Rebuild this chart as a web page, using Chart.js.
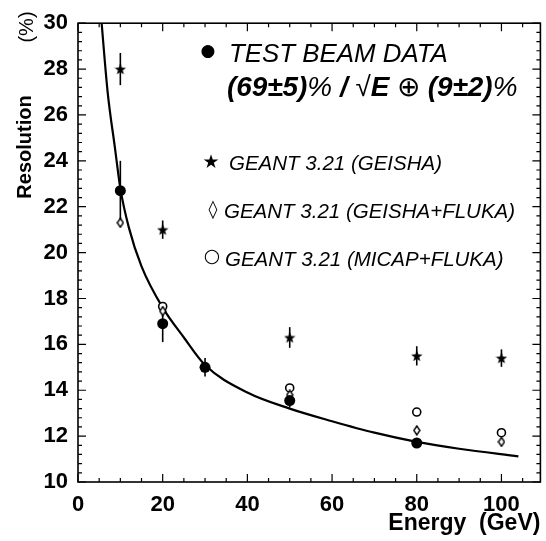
<!DOCTYPE html>
<html>
<head>
<meta charset="utf-8">
<script src="https://cdn.jsdelivr.net/npm/chart.js@4.4.1/dist/chart.umd.min.js"></script>
<style>
  html, body { margin: 0; padding: 0; background: #fff; }
  #wrap { width: 546px; height: 541px; }
</style>
</head>
<body>
<div id="wrap"><canvas id="c" width="546" height="541"></canvas></div>
<script>
// test beam data (filled circles)
var beamE   = [10, 20, 30, 50, 80];
var beamRes = [22.7, 16.9, 15.0, 13.55, 11.7];
var beamErr = [1.3, 0.8, 0.4, 0.3, 0.12];

// GEANT 3.21 (GEISHA) - stars
var geishaE   = [10, 20, 50, 80, 100];
var geishaRes = [28.0, 21.0, 16.3, 15.5, 15.4];
var geishaErr = [0.7, 0.4, 0.45, 0.42, 0.38];

// GEANT 3.21 (GEISHA+FLUKA) - open diamonds
var flukaE   = [10, 20, 50, 80, 100];
var flukaRes = [21.3, 17.45, 13.8, 12.25, 11.75];

// GEANT 3.21 (MICAP+FLUKA) - open circles
var micapE   = [20, 50, 80, 100];
var micapRes = [17.65, 14.1, 13.05, 12.15];

// fit curve
var fitE   = [5.4, 7, 8.7, 10, 12, 15, 20, 25, 30, 40, 50, 60, 70, 80, 90, 104];
var fitRes = [30.4, 27.0, 24.6, 22.8, 21.1, 19.4, 17.6, 16.3, 15.1, 13.9, 13.2, 12.65, 12.15, 11.75, 11.45, 11.12];

// tick labels
var xTicks = [0, 20, 40, 60, 80, 100];
var yTicks = [10, 12, 14, 16, 18, 20, 22, 24, 26, 28, 30];
var X_MIN = 0, X_MAX = 109.2, X_MINOR = 5;
var Y_MIN = 10, Y_MAX = 30, Y_MINOR = 0.4;

function pts(xs, ys){ return xs.map(function(x, i){ return {x: x, y: ys[i]}; }); }

var FONT = "'Liberation Sans', Arial, Helvetica, sans-serif";

// marker images
function starImg(size){
	var c = document.createElement('canvas'); c.width = c.height = size;
	var g = c.getContext('2d'); g.fillStyle = '#000'; g.beginPath();
	for (var i = 0; i < 10; i++){
		var r = (i % 2) ? size * 0.21 : size / 2;
		var a = -Math.PI / 2 + i * Math.PI / 5;
		g.lineTo(size / 2 + r * Math.cos(a), size / 2 + 0.5 + r * Math.sin(a));
	}
	g.closePath(); g.fill();
	return c;
}
function diamondImg(w, h){
	var c = document.createElement('canvas'); c.width = w; c.height = h;
	var g = c.getContext('2d');
	g.beginPath(); g.moveTo(w / 2, 1); g.lineTo(w - 1, h / 2); g.lineTo(w / 2, h - 1); g.lineTo(1, h / 2); g.closePath();
	g.fillStyle = '#fff'; g.fill(); g.lineWidth = 1.4; g.strokeStyle = '#000'; g.stroke();
	return c;
}

// vertical error bars through the library scales
var errorBars = {
	id: 'errorBars',
	beforeDatasetsDraw(chart){
		var ctx = chart.ctx, xs = chart.scales.x, ys = chart.scales.y;
		ctx.save(); ctx.strokeStyle = '#000'; ctx.lineWidth = 1.6;
		chart.data.datasets.forEach(function(ds){
			if (!ds.errors) return;
			ds.data.forEach(function(p, i){
				var px = xs.getPixelForValue(p.x);
				ctx.beginPath();
				ctx.moveTo(px, ys.getPixelForValue(p.y - ds.errors[i]));
				ctx.lineTo(px, ys.getPixelForValue(p.y + ds.errors[i]));
				ctx.stroke();
			});
		});
		ctx.restore();
	}
};

// frame, inward ticks, y title and the text block
var frame = {
	id: 'frame',
	afterDraw(chart){
		var ctx = chart.ctx, a = chart.chartArea, xs = chart.scales.x, ys = chart.scales.y;
		ctx.save();
		ctx.strokeStyle = '#000'; ctx.lineWidth = 1.6;
		ctx.strokeRect(a.left, a.top, a.right - a.left, a.bottom - a.top);
		ctx.lineWidth = 1.2;
		var v, p, len;
		for (v = X_MIN; v <= X_MAX + 1e-6; v += X_MINOR){
			p = xs.getPixelForValue(v);
			len = (Math.abs(v % 20) < 1e-6) ? 8 : 4;
			ctx.beginPath();
			ctx.moveTo(p, a.bottom); ctx.lineTo(p, a.bottom - len);
			ctx.moveTo(p, a.top); ctx.lineTo(p, a.top + len);
			ctx.stroke();
		}
		for (var k = 0; k <= Math.round((Y_MAX - Y_MIN) / Y_MINOR); k++){
			v = Y_MIN + k * Y_MINOR;
			p = ys.getPixelForValue(v);
			len = (k % 5 === 0) ? 8 : 4;
			ctx.beginPath();
			ctx.moveTo(a.left, p); ctx.lineTo(a.left + len, p);
			ctx.moveTo(a.right, p); ctx.lineTo(a.right - len, p);
			ctx.stroke();
		}

		// y title
		ctx.fillStyle = '#000';
		ctx.save();
		ctx.translate(25, 147); ctx.rotate(-Math.PI / 2);
		ctx.textAlign = 'center'; ctx.textBaseline = 'middle';
		ctx.font = 'bold 20px ' + FONT;
		ctx.fillText('Resolution', 0, 0);
		ctx.restore();
		ctx.save();
		ctx.translate(27, 27); ctx.rotate(-Math.PI / 2);
		ctx.textAlign = 'center'; ctx.textBaseline = 'middle';
		ctx.font = '20px ' + FONT;
		ctx.fillText('(%)', 0, 0);
		ctx.restore();

		// legend markers
		ctx.textAlign = 'center'; ctx.textBaseline = 'middle';
		ctx.font = "17px 'DejaVu Sans'";
		ctx.fillText('\u25CF', 208, 52);
		ctx.font = "19px 'DejaVu Sans'";
		ctx.fillText('\u2605', 211, 163);
		ctx.font = "18px 'DejaVu Sans'";
		ctx.fillText('\u25CA', 213, 210);
		ctx.font = "19px 'DejaVu Sans'";
		ctx.fillText('\u25CB', 212, 257);

		// text block
		ctx.textAlign = 'left'; ctx.textBaseline = 'alphabetic';
		drawRun(ctx, [['TEST BEAM DATA', 'italic ']], 229, 62, 219, 26);
		drawRun(ctx, [
			['(69\u00B15)', 'italic bold '], ['%', 'italic '], [' / ', 'italic bold '],
			['\u221A', ''], ['E', 'italic bold '], [' \u2295 ', ''],
			['(9\u00B12)', 'italic bold '], ['%', 'italic ']
		], 227, 96, 291, 25);
		ctx.font = 'italic 20.5px ' + FONT;
		ctx.fillText('GEANT 3.21 (GEISHA)', 229, 170);
		ctx.fillText('GEANT 3.21 (GEISHA+FLUKA)', 224, 218);
		ctx.fillText('GEANT 3.21 (MICAP+FLUKA)', 225, 266);
		ctx.restore();
	}
};

// text pieces in mixed styles, scaled to a measured width
function drawRun(ctx, parts, x, y, width, size){
	function total(s){
		var w = 0;
		parts.forEach(function(pt){ ctx.font = pt[1] + s + 'px ' + FONT; w += ctx.measureText(pt[0]).width; });
		return w;
	}
	var s = size * width / total(size);
	parts.forEach(function(pt){
		ctx.font = pt[1] + s + 'px ' + FONT;
		ctx.fillText(pt[0], x, y);
		x += ctx.measureText(pt[0]).width;
	});
}

var chart_data = {
	type: 'scatter',
	data: {
		datasets: [
			{
				label: 'fit', data: pts(fitE, fitRes), showLine: true,
				cubicInterpolationMode: 'monotone', borderColor: '#000', borderWidth: 2.2,
				pointRadius: 0, order: 10
			},
			{
				label: 'GEANT 3.21 (MICAP+FLUKA)', data: pts(micapE, micapRes),
				pointStyle: 'circle', pointRadius: 4, backgroundColor: '#fff',
				borderColor: '#000', borderWidth: 1.6, order: 4
			},
			{
				label: 'GEANT 3.21 (GEISHA+FLUKA)', data: pts(flukaE, flukaRes),
				pointStyle: diamondImg(8, 11), order: 3
			},
			{
				label: 'GEANT 3.21 (GEISHA)', data: pts(geishaE, geishaRes), errors: geishaErr,
				pointStyle: starImg(12), order: 2
			},
			{
				label: 'TEST BEAM DATA', data: pts(beamE, beamRes), errors: beamErr,
				pointStyle: 'circle', pointRadius: 5.5, backgroundColor: '#000',
				borderColor: '#000', borderWidth: 0, order: 1
			}
		]
	},
	options: {
		responsive: false,
		animation: false,
		layout: { padding: { left: 0, top: 15, right: 4, bottom: 0 } },
		plugins: { legend: { display: false }, tooltip: { enabled: false } },
		scales: {
			x: {
				type: 'linear', min: X_MIN, max: X_MAX,
				afterBuildTicks: function(s){ s.ticks = xTicks.map(function(v){ return {value: v}; }); },
				afterFit: function(s){ s.height = 59; },
				grid: { display: false, drawTicks: false },
				border: { display: false },
				ticks: { padding: 10, color: '#000', font: { family: FONT, size: 22, weight: 'bold' }, maxRotation: 0 },
				title: {
					display: true, text: 'Energy  (GeV)', align: 'end', color: '#000',
					font: { family: FONT, size: 23, weight: 'bold' }, padding: { top: 0, bottom: 4 }
				}
			},
			y: {
				type: 'linear', min: Y_MIN, max: Y_MAX,
				afterBuildTicks: function(s){ s.ticks = yTicks.map(function(v){ return {value: v}; }); },
				afterFit: function(s){ s.width = 78; },
				grid: { display: false, drawTicks: false },
				border: { display: false },
				ticks: { padding: 10, color: '#000', font: { family: FONT, size: 22, weight: 'bold' } }
			}
		}
	},
	plugins: [errorBars, frame]
};

const chart = new Chart(document.getElementById('c'), chart_data);
</script>
</body>
</html>
